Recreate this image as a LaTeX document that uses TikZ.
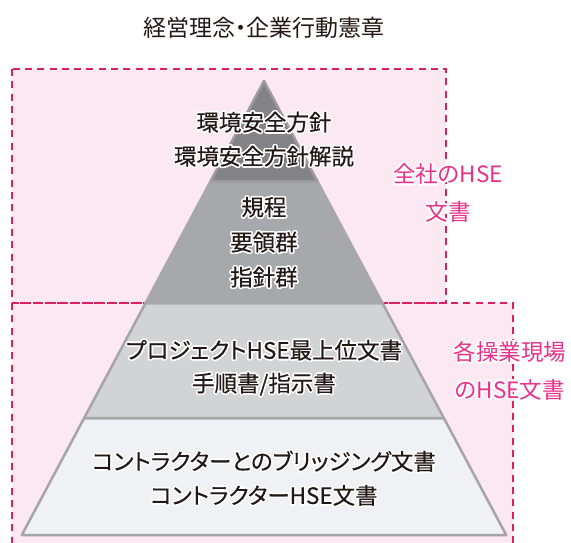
\documentclass[tikz,border=0pt]{standalone}
\usepackage{fontspec}
\setmainfont{Noto Sans CJK JP}[RawFeature=+palt]
\newfontfamily\docfont{Noto Sans CJK JP}[RawFeature=+palt,FakeBold=0.4]
\usepackage[copies]{contour}
\contourlength{1.6pt}

\definecolor{boxpink}{HTML}{FCE8F1}
\definecolor{dashpink}{HTML}{DA1F63}
\definecolor{labelpink}{HTML}{E8318A}
\definecolor{inkblack}{HTML}{231815}
\definecolor{edgegray}{HTML}{A5A5A8}
\definecolor{topedge}{HTML}{9C9C9F}
\definecolor{grayone}{HTML}{838387}
\definecolor{graytwo}{HTML}{A7A8AB}
\definecolor{graythree}{HTML}{D2D3D5}
\definecolor{grayfour}{HTML}{F0F1F4}

\begin{document}
\begin{tikzpicture}[x=1pt,y=-1pt,
    zone/.style={dashpink,line width=2.6pt,dash pattern=on 7pt off 5.3pt},
    layer/.style={draw=edgegray,line width=2.5pt,line join=round},
    doc/.style={align=center,text=inkblack,font=\docfont\fontsize{22.5}{34}\selectfont},
    scopelabel/.style={align=center,text=labelpink,font=\fontsize{22.5}{37.5}\selectfont}]
    \clip (0,0) rectangle (571,543);

    % pink areas
    \fill[boxpink] (12,69) rectangle (446,303);
    \fill[boxpink] (12,303) rectangle (513,560);
    \draw[zone] (12,69) rectangle (446,303);
    \draw[zone] (12,303) rectangle (513,560);

    % pyramid
    \filldraw[layer,fill=grayfour] (21.8,535)--(506.2,535)--(443.8,418)--(84.2,418)--cycle;
    \filldraw[layer,fill=graythree] (84.2,418)--(443.8,418)--(382.4,303)--(145.6,303)--cycle;
    \filldraw[layer,fill=graytwo,draw=graytwo] (145.6,303)--(382.4,303)--(317.3,181)--(210.7,181)--cycle;
    \filldraw[layer,fill=grayone,draw=topedge] (210.7,181)--(317.3,181)--(264,81)--cycle;

    \node[text=inkblack,font=\fontsize{23}{27}\selectfont] (title) at (264,28) {経営理念・企業行動憲章};

    \node[doc] (policy) at (264,140) {\contour{white}{環境安全方針}\\\contour{white}{環境安全方針解説}};
    \node[doc,font=\docfont\fontsize{22.5}{35}\selectfont] (rules) at (264,243) {\contour{white}{規程}\\\contour{white}{要領群}\\\contour{white}{指針群}};
    \node[doc,font=\docfont\fontsize{22.5}{33}\selectfont] (project) at (264,368.5) {\contour{white}{プロジェクトHSE最上位文書}\\\contour{white}{手順書/指示書}};
    \node[doc] (contractor) at (264,479) {\contour{white}{コントラクターとのブリッジング文書}\\\contour{white}{コントラクターHSE文書}};

    \node[scopelabel] (corp) at (448,194) {\contour{white}{全社のHSE}\\\contour{white}{文書}};
    \node[scopelabel] (site) at (510,371.5) {\contour{white}{各操業現場}\\\contour{white}{のHSE文書}};
\end{tikzpicture}
\end{document}
